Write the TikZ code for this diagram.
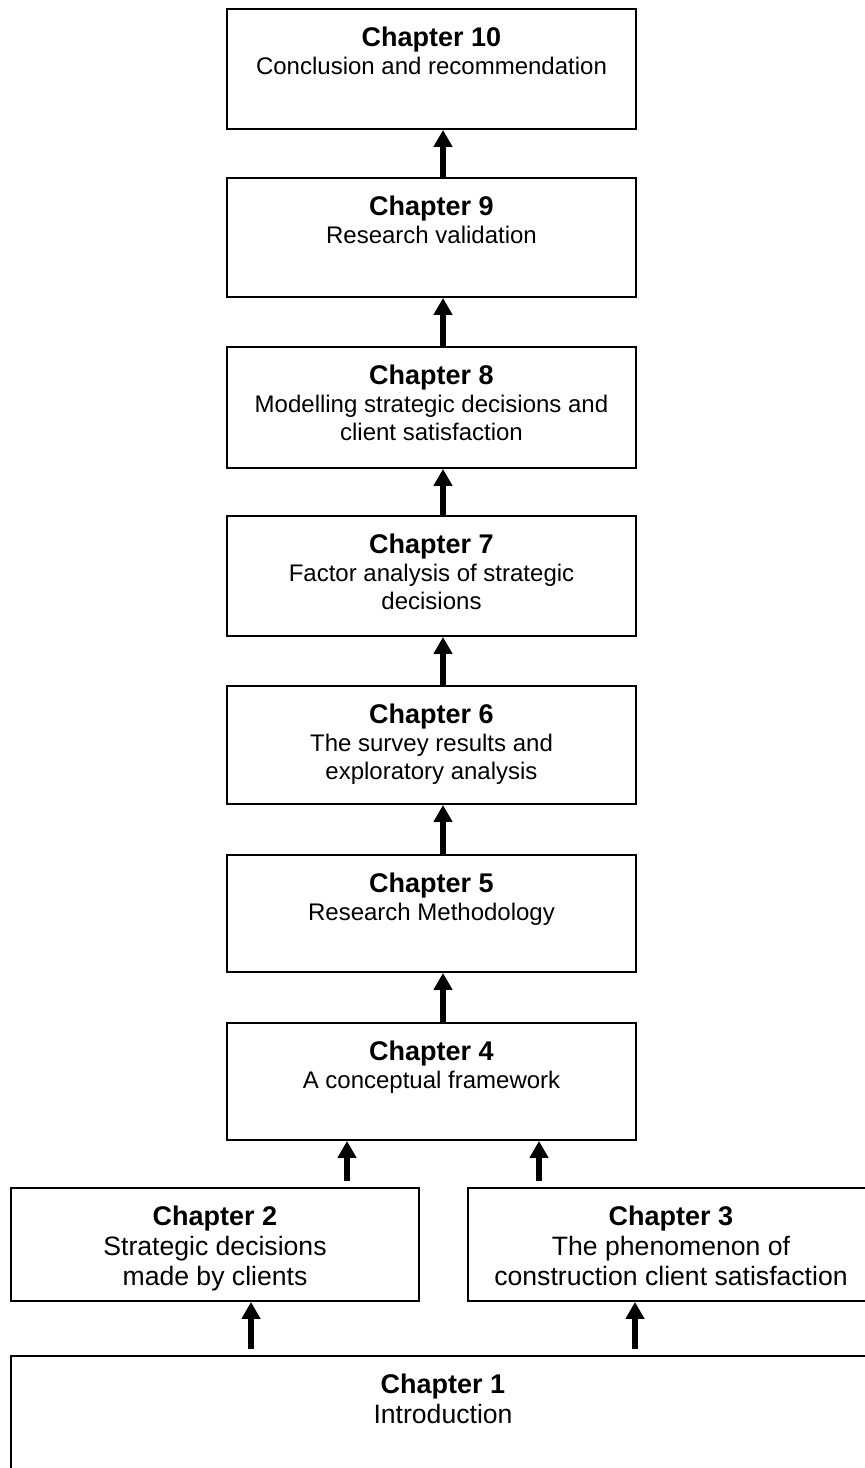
\documentclass[tikz,border=0pt]{standalone}
\usepackage{fontspec}
\setmainfont{Liberation Sans}
\usetikzlibrary{arrows.meta,calc}

\tikzset{
  chbox/.style={draw, line width=0.9pt, rectangle, inner sep=0pt},
  midbox/.style={chbox, minimum width=204.5pt},
  chtext/.style={anchor=north, inner sep=0pt, align=center,
    font=\fontsize{12pt}{14pt}\selectfont},
  lowtext/.style={chtext, font=\fontsize{13.3pt}{15pt}\selectfont},
  uparrow/.style={line width=3pt, -{Triangle[width=9pt,length=8.5pt]}},
}
\newcommand{\chead}[1]{{\fontsize{13.5pt}{14pt}\selectfont\bfseries #1}}

\begin{document}
\begin{tikzpicture}[x=0.5pt, y=-0.5pt]
  \useasboundingbox (0,0) rectangle (865,1468);
  \clip (0,0) rectangle (865,1468);

  % central column of chapter boxes
  \node[midbox, minimum height=60pt]   (c10) at (431.5,69)    {};
  \node[midbox, minimum height=59.5pt] (c9)  at (431.5,237.5) {};
  \node[midbox, minimum height=60.5pt] (c8)  at (431.5,407.5) {};
  \node[midbox, minimum height=60pt]   (c7)  at (431.5,576)   {};
  \node[midbox, minimum height=59pt]   (c6)  at (431.5,745)   {};
  \node[midbox, minimum height=58.5pt] (c5)  at (431.5,913.5) {};
  \node[midbox, minimum height=58.5pt] (c4)  at (431.5,1081.5){};

  % literature chapters and introduction
  \node[chbox, minimum width=204pt, minimum height=56.5pt] (c2) at (215,1244.5) {};
  \node[chbox, minimum width=203pt, minimum height=56.5pt] (c3) at (671,1244.5) {};
  \node[chbox, minimum width=432pt, minimum height=72pt]   (c1) at (443,1428)   {};

  % box texts
  \node[chtext] (t10) at ($(c10.north)+(0,18)$) {\chead{Chapter 10}\\Conclusion and recommendation};
  \node[chtext] (t9)  at ($(c9.north)+(0,18)$)  {\chead{Chapter 9}\\Research validation};
  \node[chtext] (t8)  at ($(c8.north)+(0,18)$)  {\chead{Chapter 8}\\Modelling strategic decisions and\\client satisfaction};
  \node[chtext] (t7)  at ($(c7.north)+(0,18)$)  {\chead{Chapter 7}\\Factor analysis of strategic\\decisions};
  \node[chtext] (t6)  at ($(c6.north)+(0,18)$)  {\chead{Chapter 6}\\The survey results and\\exploratory analysis};
  \node[chtext] (t5)  at ($(c5.north)+(0,18)$)  {\chead{Chapter 5}\\Research Methodology};
  \node[chtext] (t4)  at ($(c4.north)+(0,18)$)  {\chead{Chapter 4}\\A conceptual framework};
  \node[lowtext] (t2) at ($(c2.north)+(0,18)$)  {\chead{Chapter 2}\\Strategic decisions\\made by clients};
  \node[lowtext] (t3) at ($(c3.north)+(0,18)$)  {\chead{Chapter 3}\\The phenomenon of\\construction client satisfaction};
  \node[lowtext] (t1) at ($(c1.north)+(0,18)$)  {\chead{Chapter 1}\\Introduction};

  % arrows up the central column
  \foreach \lo/\hi in {c9/c10, c8/c9, c7/c8, c6/c7, c5/c6, c4/c5}
    \draw[uparrow] ($(\lo.north)+(11.5,0)$) -- ($(\hi.south)+(11.5,0)$);

  % arrows into chapter 4
  \coordinate (a2) at (347,1181);
  \coordinate (a3) at (539,1181);
  \draw[uparrow] (a2) -- (a2 |- c4.south);
  \draw[uparrow] (a3) -- (a3 |- c4.south);

  % arrows from chapter 1
  \coordinate (b2) at (251,1349);
  \coordinate (b3) at (635,1349);
  \draw[uparrow] (b2) -- (b2 |- c2.south);
  \draw[uparrow] (b3) -- (b3 |- c3.south);
\end{tikzpicture}
\end{document}
